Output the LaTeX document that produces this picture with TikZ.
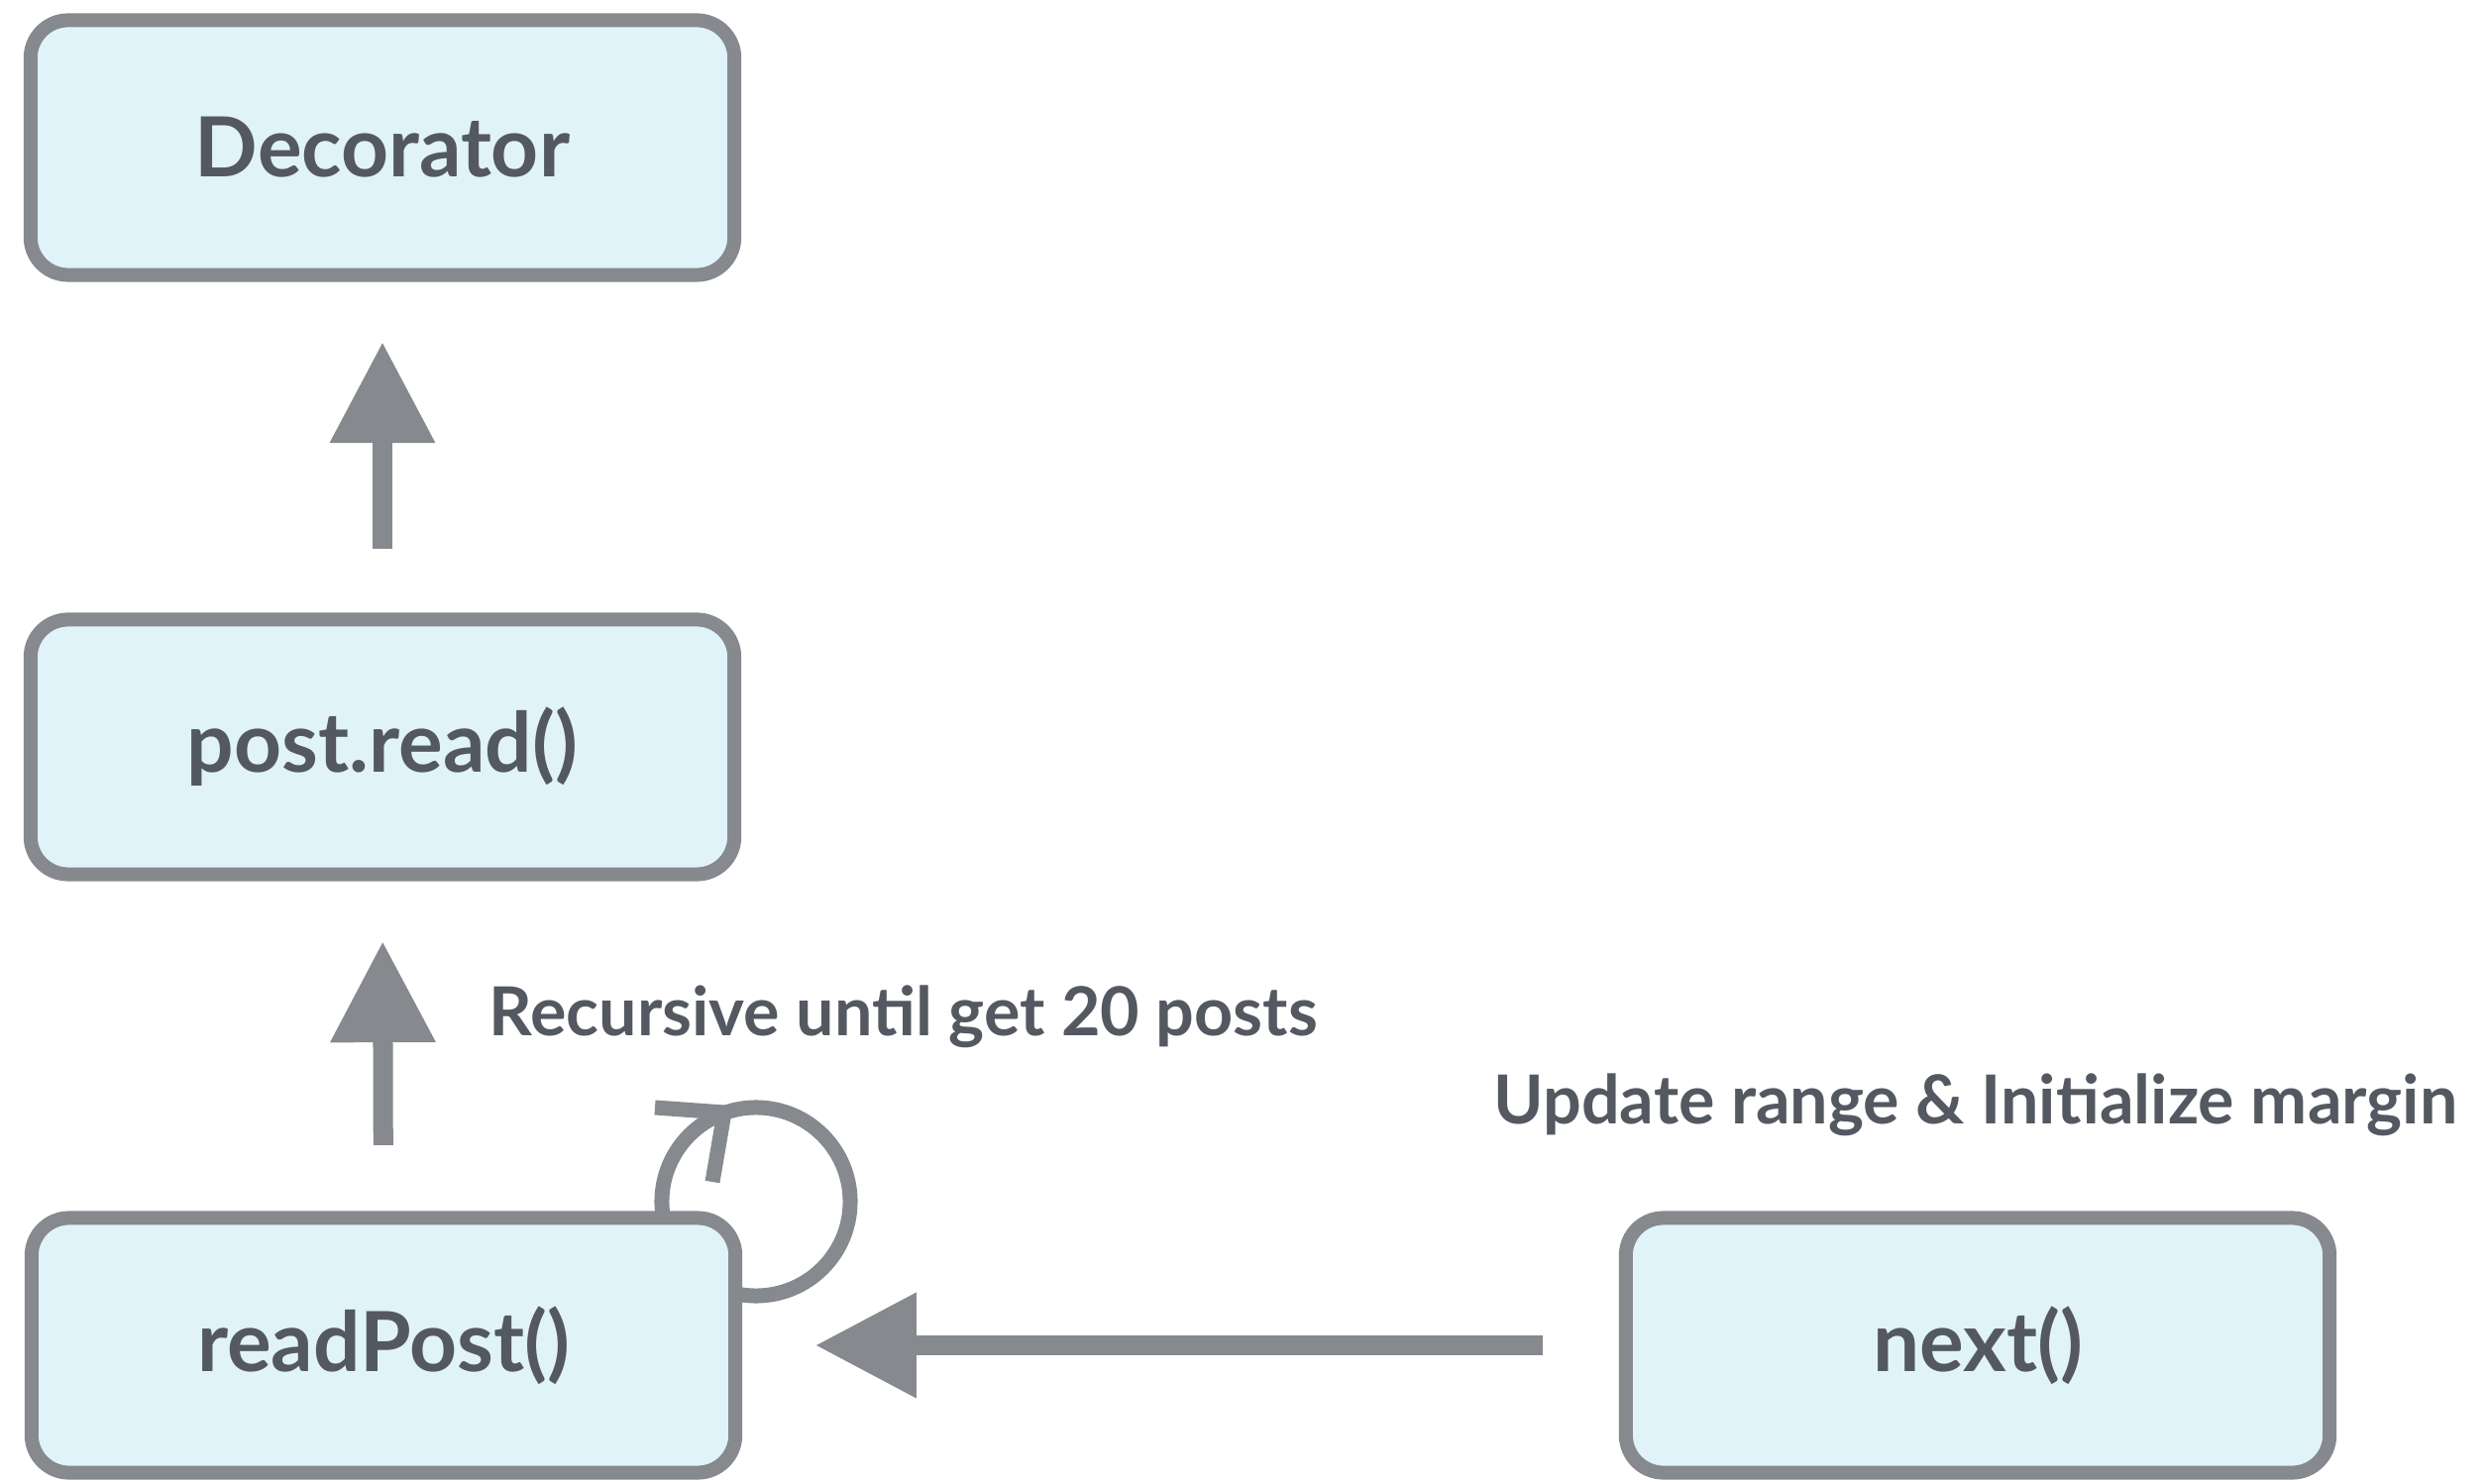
\documentclass[tikz,border=0pt]{standalone}
\usepackage{fontspec}
\setmainfont{Lato}
\usetikzlibrary{arrows.meta,shadows}
\definecolor{boxfill}{HTML}{E0F3F8}
\definecolor{edgegray}{HTML}{86898E}
\definecolor{txtgray}{HTML}{545860}
\tikzset{
  box/.style={draw=edgegray, line width=0.14cm, fill=boxfill, rounded corners=0.38cm,
    minimum width=7.1cm, minimum height=2.57cm, outer sep=0pt, inner sep=0pt,
    text=txtgray, font=\fontsize{23.8}{27}\selectfont\bfseries,
    drop shadow={shadow xshift=0.02cm, shadow yshift=-0.06cm, fill=black, opacity=0.12}},
  arr/.style={draw=edgegray, line width=0.2cm, -{Triangle[width=1.01cm,length=1.02cm]}},
  lbl/.style={text=txtgray, font=\fontsize{19.4}{23}\selectfont\bfseries, inner sep=0pt},
  loopline/.style={draw=edgegray, line width=0.15cm},
}
\begin{document}
\begin{tikzpicture}[x=0.01cm,y=-0.01cm]
\useasboundingbox (0,0) rectangle (2512,1498);
% self loop (behind box)
\coordinate (lc) at (763,1213);
\draw[loopline] (lc) circle[radius=0.95cm];
\coordinate (tip) at (731,1123);
\coordinate (b1) at (661,1118);
\coordinate (b2) at (719,1193);
\draw[loopline] (b1) -- (tip) -- (b2);
\node[box] (dec) at (386,149) {Decorator};
\node[box] (post) at (386,754) {post.read()};
\node[box] (rp) at (387,1358) {readPost()};
\node[box] (nx) at (1996,1358) {next()};
\draw[arr, shorten <=0.715cm, shorten >=0.675cm] (post.north) -- (dec.south);
\draw[arr, shorten <=0.735cm, shorten >=0.675cm] (rp.north) -- (post.south);
\draw[arr, shorten <=0.835cm, shorten >=0.805cm] (nx.west) -- (rp.east);
\node[lbl] (l1) at (912,1026) {Recursive until get 20 posts};
\node[lbl] (l2) at (1994,1115) {Update range \& Initialize margin};
\end{tikzpicture}
\end{document}
